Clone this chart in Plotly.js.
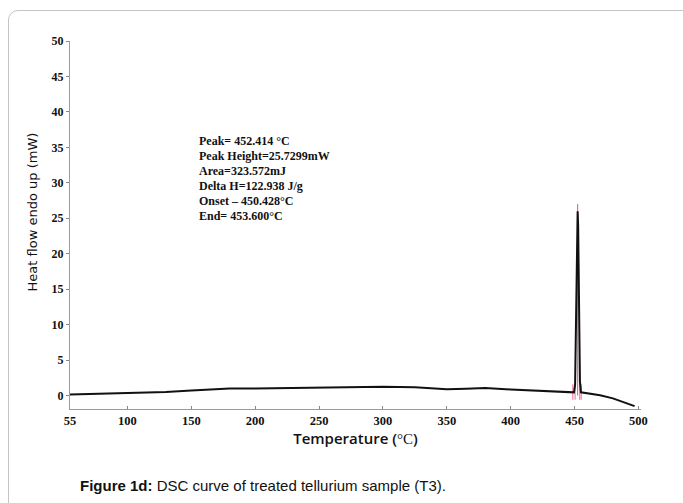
<!DOCTYPE html>
<html>
<head>
<meta charset="utf-8">
<script src="https://cdn.plot.ly/plotly-3.0.1.min.js"></script>
<style>
html,body{margin:0;padding:0;background:#fff;overflow:hidden;}
#frame{position:absolute;left:8px;top:10px;width:720px;height:540px;border:1.5px solid #c4c4c4;border-radius:10px;}
#chart{position:absolute;left:0;top:0;width:683px;height:503px;}
</style>
</head>
<body>
<div id="frame"></div>
<div id="chart"></div>
<script>
// DSC curve (temperature in °C, heat flow in mW)
var temps = [55,70,85,100,115,130,150,165,180,200,225,250,275,300,325,350,365,380,400,420,440,448,449.5,450.4,451.2,452.0,452.4,452.8,453.4,454.2,455,460,470,480,490,497];
var heat  = [0.15,0.2,0.25,0.3,0.4,0.5,0.7,0.9,1.0,1.0,1.05,1.15,1.2,1.25,1.15,0.9,0.95,1.05,0.85,0.7,0.5,0.4,0.45,1.5,10,24,26,24,12,2.0,0.45,0.3,0.05,-0.4,-1.0,-1.5];

// red analysis markers (onset/peak/end)
var markerTemps = [448.6, 450.4, 454.0, 455.2];
var markerLow = -0.6, markerHigh = 1.6;
var peakTemp = 452.414, peakTop = 27.0;

var xTicks = [55,100,150,200,250,300,350,400,450,500];
var yTicks = [0,5,10,15,20,25,30,35,40,45,50];

var infoLines = ["Peak= 452.414 °C","Peak Height=25.7299mW","Area=323.572mJ","Delta H=122.938 J/g","Onset – 450.428°C","End= 453.600°C"];
var yTitle = "Heat flow endo up (mW)";
var captionBold = "Figure 1d:";
var captionRest = " DSC curve of treated tellurium sample (T3).";

var traces = [];
markerTemps.forEach(function(t){
  traces.push({x:[t,t], y:[markerLow,markerHigh], mode:'lines', line:{color:'rgba(240,90,140,0.75)', width:1.2}, hoverinfo:'skip', showlegend:false});
});
traces.push({x:[peakTemp,peakTemp], y:[0,peakTop], mode:'lines', line:{color:'rgba(230,40,60,0.8)', width:1}, hoverinfo:'skip', showlegend:false});
traces.push({x:temps, y:heat, mode:'lines', line:{color:'#111', width:2}, showlegend:false});

var serif = '"Liberation Serif", "Times New Roman", serif';
var annotations = infoLines.map(function(s,i){
  return {xref:'x', yref:'y', x:154.5, y:35.9 - i*2.12, xanchor:'left', yanchor:'middle', showarrow:false,
          text:'<b>'+s+'</b>', font:{family:serif, size:12, color:'#111'}};
});
annotations.push({xref:'paper', yref:'paper', x:0.338, y:-0.209, xanchor:'center', yanchor:'middle', showarrow:false,
  text:'<b>'+captionBold+'</b>'+captionRest, font:{family:'"Liberation Sans", Arial, sans-serif', size:15, color:'#111'}});
annotations.push({xref:'paper', yref:'paper', x:-0.066, y:0.535, xanchor:'center', yanchor:'middle', showarrow:false, textangle:-90,
  text:yTitle, font:{family:'"DejaVu Sans", Verdana, sans-serif', size:13, color:'#111'}});

var layout = {
  width:683, height:503,
  margin:{l:70, r:42, t:41, b:94},
  paper_bgcolor:'rgba(0,0,0,0)', plot_bgcolor:'#fff',
  showlegend:false,
  xaxis:{range:[55,502], tickvals:xTicks, ticktext:xTicks.map(String), showgrid:false, zeroline:false,
    showline:true, linecolor:'#9a9a9a', linewidth:1, ticks:'inside', ticklen:3, tickcolor:'#888',
    tickfont:{family:serif, size:12.5, color:'#111', weight:700},
    title:{text:'Temperature (<span style="font-family:Liberation Serif;font-weight:normal">°C</span>)', standoff:4,
      font:{family:'"Open Sans", Arial, sans-serif', size:15, color:'#111', weight:600}}},
  yaxis:{range:[-1.9,50], tickvals:yTicks, ticktext:yTicks.map(String), showgrid:false, zeroline:false,
    showline:true, linecolor:'#8e9ac8', linewidth:1, ticks:'outside', ticklen:3, tickcolor:'#888',
    tickfont:{family:serif, size:12, color:'#111', weight:700}},
  annotations:annotations
};
Plotly.newPlot('chart', traces, layout, {displayModeBar:false, staticPlot:true});
</script>
</body>
</html>
